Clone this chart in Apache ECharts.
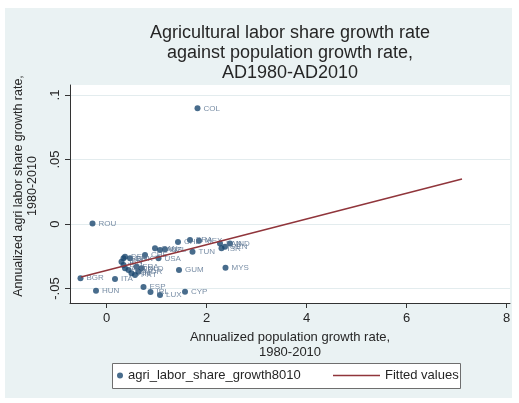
<!DOCTYPE html>
<html>
<head>
<meta charset="utf-8">
<script src="https://cdn.jsdelivr.net/npm/echarts@6/dist/echarts.min.js"></script>
<style>
  html, body { margin: 0; padding: 0; background: #ffffff; }
  #bg { position: absolute; left: 5px; top: 8px; width: 507px; height: 390px; background: #eaf2f3; }
  #chart { position: absolute; left: 0; top: 0; width: 519px; height: 403px; }
</style>
</head>
<body>
<div id="bg"></div>
<div id="chart"></div>
<script>
// Country codes with annualized growth rates, 1980-2010
const countries = [
  'COL', 'ROU', 'BGR', 'ITA', 'HUN', 'ESP', 'IRL', 'LUX', 'CYP', 'GUM',
  'MYS', 'TUN', 'CHL', 'BRA', 'MEX', 'PAN', 'ISR', 'VEN', 'IND', 'USA',
  'CAN', 'AUS', 'NZL', 'GBR', 'JPN', 'BEL', 'AUT', 'SWE', 'FIN', 'PRT',
  'NOR', 'FRA', 'NLD', 'DNK', 'CHE', 'DEU'
];
const popGrowth = [
  1.82, -0.28, -0.52, 0.17, -0.21, 0.74, 0.88, 1.07, 1.57, 1.45,
  2.38, 1.72, 1.43, 1.67, 1.85, 2.27, 2.30, 2.37, 2.47, 1.04,
  0.97, 1.07, 1.17, 0.34, 0.30, 0.34, 0.37, 0.44, 0.50, 0.57,
  0.64, 0.60, 0.70, 0.47, 0.77, 0.37
];
const agriGrowth = [
  0.0897, 0.0005, -0.0420, -0.0426, -0.0517, -0.0488, -0.0527, -0.0550, -0.0525, -0.0357,
  -0.0339, -0.0214, -0.0140, -0.0124, -0.0130, -0.0150, -0.0188, -0.0176, -0.0150, -0.0266,
  -0.0188, -0.0202, -0.0196, -0.0266, -0.0292, -0.0318, -0.0343, -0.0357, -0.0382, -0.0395,
  -0.0370, -0.0331, -0.0343, -0.0266, -0.0240, -0.0253
];

// Linear fit endpoints
const fitX = [-0.51, 7.11];
const fitY = [-0.0411, 0.0349];

// Axis ticks
const xTicks = [0, 2, 4, 6, 8];
const yTicks = [-0.05, 0, 0.05, 0.1];
const yTickLabels = ['-.05', '0', '.05', '.1'];

const FONT = "'Liberation Sans', Arial, sans-serif";
const NAVY = '#1a476f';
const MAROON = '#90353b';

const scatterData = countries.map((c, i) => ({ name: c, value: [popGrowth[i], agriGrowth[i]] }));
const fitData = fitX.map((x, i) => [x, fitY[i]]);

const chart = echarts.init(document.getElementById('chart'), null, { renderer: 'canvas' });

chart.setOption({
  backgroundColor: 'transparent',
  animation: false,
  textStyle: { fontFamily: FONT },
  title: {
    text: 'Agricultural labor share growth rate\nagainst population growth rate,\nAD1980-AD2010',
    left: 290,
    top: 23,
    padding: 0,
    textAlign: 'center',
    textStyle: { fontFamily: FONT, fontSize: 18, fontWeight: 'normal', color: '#262626', lineHeight: 20 }
  },
  grid: {
    left: 70, right: 9, top: 85, bottom: 100,
    show: true, backgroundColor: '#ffffff', borderWidth: 0
  },
  xAxis: {
    type: 'value',
    min: -0.73, max: 8.07,
    name: 'Annualized population growth rate,\n1980-2010',
    nameLocation: 'middle',
    nameGap: 23,
    nameTextStyle: { fontFamily: FONT, fontSize: 13, color: '#262626', lineHeight: 15, verticalAlign: 'top' },
    axisLine: { show: true, onZero: false, lineStyle: { color: '#333', width: 1 } },
    axisTick: { show: true, inside: false, length: 5, customValues: xTicks, lineStyle: { color: '#333' } },
    axisLabel: { customValues: xTicks, margin: 9, fontSize: 13, color: '#262626', fontFamily: FONT },
    splitLine: { show: false }
  },
  yAxis: {
    type: 'value',
    min: -0.0612, max: 0.1078,
    name: 'Annualized agri labor share growth rate,\n1980-2010',
    nameLocation: 'middle',
    nameRotate: 90,
    nameGap: 30,
    nameTextStyle: { fontFamily: FONT, fontSize: 12.5, color: '#262626', lineHeight: 14, padding: [0, 0, 0, 16] },
    axisLine: { show: true, onZero: false, lineStyle: { color: '#333', width: 1 } },
    axisTick: { show: true, inside: false, length: 5, customValues: yTicks, lineStyle: { color: '#333' } },
    axisLabel: {
      customValues: yTicks,
      rotate: 90,
      margin: 8,
      fontSize: 13,
      color: '#262626',
      fontFamily: FONT,
      formatter: v => {
        const i = yTicks.findIndex(t => Math.abs(t - v) < 1e-9);
        return i >= 0 ? yTickLabels[i] : '';
      }
    },
    splitLine: { show: true, lineStyle: { color: '#e3ecee', width: 1 } }
  },
  legend: [
    {
      data: ['agri_labor_share_growth8010'],
      left: 117, top: 369,
      padding: 0,
      itemWidth: 6, itemHeight: 6,
      icon: 'circle',
      textStyle: { fontFamily: FONT, fontSize: 13, color: '#262626' }
    },
    {
      data: [{ name: 'Fitted values', icon: 'path://M0 0H47V1.5H0Z' }],
      left: 333, top: 369,
      padding: 0,
      itemWidth: 47, itemHeight: 1.5,
      textStyle: { fontFamily: FONT, fontSize: 13, color: '#262626' }
    }
  ],
  graphic: [
    {
      type: 'rect',
      z: -1,
      shape: { x: 112.5, y: 363.5, width: 348, height: 25 },
      style: { fill: '#ffffff', stroke: '#6e6e6e', lineWidth: 1 }
    }
  ],
  series: [
    {
      name: 'agri_labor_share_growth8010',
      type: 'scatter',
      data: scatterData,
      symbol: 'circle',
      symbolSize: 6,
      itemStyle: { color: NAVY },
      z: 2,
      label: {
        show: true,
        position: 'right',
        distance: 3,
        formatter: '{b}',
        fontFamily: FONT,
        fontSize: 8,
        color: '#56708f'
      }
    },
    {
      name: 'Fitted values',
      type: 'line',
      data: fitData,
      symbol: 'none',
      z: 3,
      lineStyle: { color: MAROON, width: 1.5 },
      itemStyle: { color: MAROON }
    }
  ]
});
</script>
</body>
</html>
